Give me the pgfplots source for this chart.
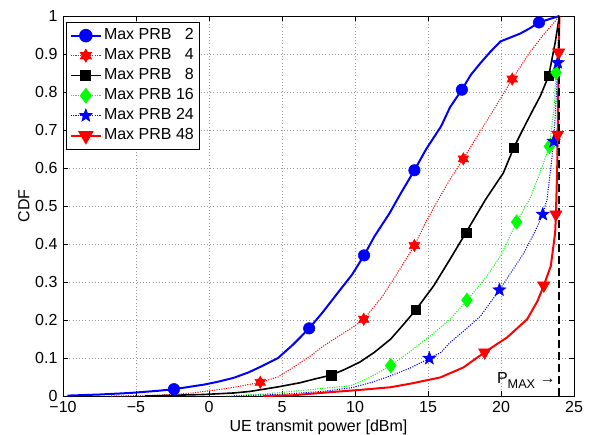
\documentclass[12pt,border=0pt]{standalone}
\usepackage{fontspec}
\setmainfont{Liberation Sans}
\usepackage{pgfplots}
\pgfplotsset{compat=1.18}

% MATLAB-like hexagram marker
\pgfdeclareplotmark{hexagram}{%
  \pgfpathmoveto{\pgfpointpolar{90}{\pgfplotmarksize}}%
  \pgfpathlineto{\pgfpointpolar{210}{\pgfplotmarksize}}%
  \pgfpathlineto{\pgfpointpolar{330}{\pgfplotmarksize}}%
  \pgfpathclose
  \pgfpathmoveto{\pgfpointpolar{270}{\pgfplotmarksize}}%
  \pgfpathlineto{\pgfpointpolar{30}{\pgfplotmarksize}}%
  \pgfpathlineto{\pgfpointpolar{150}{\pgfplotmarksize}}%
  \pgfpathclose
  \pgfusepathqfillstroke}
% MATLAB-like pentagram marker
\pgfdeclareplotmark{pentagram}{%
  \pgfpathmoveto{\pgfpointpolar{90}{\pgfplotmarksize}}%
  \pgfpathlineto{\pgfpointpolar{126}{0.42\pgfplotmarksize}}%
  \pgfpathlineto{\pgfpointpolar{162}{\pgfplotmarksize}}%
  \pgfpathlineto{\pgfpointpolar{198}{0.42\pgfplotmarksize}}%
  \pgfpathlineto{\pgfpointpolar{234}{\pgfplotmarksize}}%
  \pgfpathlineto{\pgfpointpolar{270}{0.42\pgfplotmarksize}}%
  \pgfpathlineto{\pgfpointpolar{306}{\pgfplotmarksize}}%
  \pgfpathlineto{\pgfpointpolar{342}{0.42\pgfplotmarksize}}%
  \pgfpathlineto{\pgfpointpolar{18}{\pgfplotmarksize}}%
  \pgfpathlineto{\pgfpointpolar{54}{0.42\pgfplotmarksize}}%
  \pgfpathclose
  \pgfusepathqfillstroke}

\pgfplotsset{
  prbA/.style={blue, line width=1.5pt},
  prbAm/.style={blue, mark=*, mark size=4.3pt, mark options={solid, fill=blue}},
  prbB/.style={red, line width=0.8pt, densely dotted},
  prbBm/.style={red, mark=hexagram, mark size=4.6pt, mark options={solid, fill=red}},
  prbC/.style={black, line width=1.2pt},
  prbCm/.style={black, mark=square*, mark size=3.6pt, mark options={solid, fill=black}},
  prbD/.style={green, line width=0.8pt, densely dotted},
  prbDm/.style={green, mark=diamond*, mark size=5.4pt, mark options={solid, fill=green}},
  prbE/.style={blue, line width=0.8pt, densely dotted},
  prbEm/.style={blue, mark=pentagram, mark size=5pt, mark options={solid, fill=blue, line width=0.5pt}},
  prbF/.style={red, line width=1.5pt},
  prbFm/.style={red, mark=triangle*, mark size=5.3pt, mark options={solid, fill=red, rotate=180}},
}

\begin{document}
\begin{tikzpicture}
\begin{axis}[
  name=ax,
  scale only axis,
  width=383.25pt, height=285pt,
  xmin=-10, xmax=25, ymin=0, ymax=1,
  xtick={-10,-5,0,5,10,15,20,25},
  xticklabels={−10,−5,0,5,10,15,20,25},
  ytick={0,0.1,0.2,0.3,0.4,0.5,0.6,0.7,0.8,0.9,1},
  /pgf/number format/assume math mode=true,
  tick align=inside,
  major tick length=3.75pt,
  every tick/.style={black, line width=0.5pt},
  axis line style={black, line width=0.5pt},
  grid=major,
  major grid style={gray!80, dotted, line width=0.5pt},
  xlabel={UE transmit power [dBm]},
  ylabel={CDF},
  xlabel style={yshift=3pt},
  ylabel style={yshift=-4pt},
  legend cell align=left,
  legend style={at={(0,1)}, anchor=north west, xshift=2.25pt, yshift=-4.5pt,
    draw=black, line width=0.5pt, fill=white, inner sep=2.5pt, row sep=0pt,
    nodes={inner sep=1.5pt, text height=9pt, text depth=3pt}},
  legend image code/.code={\draw[mark repeat=2,mark phase=2] plot coordinates {(0cm,0cm) (0.4cm,0cm) (0.8cm,0cm)};},
]
\addlegendimage{prbA, prbAm}
\addlegendentry{Max PRB \phantom{1}2}
\addlegendimage{prbB, prbBm}
\addlegendentry{Max PRB \phantom{1}4}
\addlegendimage{prbC, prbCm}
\addlegendentry{Max PRB \phantom{1}8}
\addlegendimage{prbD, prbDm}
\addlegendentry{Max PRB 16}
\addlegendimage{prbE, prbEm}
\addlegendentry{Max PRB 24}
\addlegendimage{prbF, prbFm}
\addlegendentry{Max PRB 48}

% Max PRB 2
\addplot[prbA, forget plot] coordinates {
(-9.7,0.001) (-7.45,0.004) (-5.4,0.008) (-3.4,0.014) (-2.4,0.018) (-1.36,0.024)
(-0.34,0.03) (0.67,0.038) (1.7,0.048) (2.7,0.062) (3.7,0.08) (4.73,0.1)
(5.75,0.135) (6.86,0.178) (7.78,0.22) (8.79,0.27) (9.81,0.32) (10.62,0.37)
(11.33,0.42) (12.35,0.48) (13.16,0.535) (14.07,0.594) (14.88,0.65) (15.9,0.71)
(16.51,0.76) (17.32,0.806) (17.93,0.845) (18.59,0.876) (19.25,0.905) (19.96,0.933)
(21.33,0.954) (21.99,0.968) (22.6,0.983) (23.41,0.993) (24,1)};
% Max PRB 4
\addplot[prbB, forget plot] coordinates {
(-6.7,0) (-3.4,0.002) (-1.36,0.007) (-0.34,0.012) (0.67,0.017) (1.7,0.023)
(2.7,0.03) (3.51,0.036) (4.73,0.05) (5.75,0.075) (6.97,0.106) (7.78,0.13)
(8.79,0.155) (9.81,0.18) (10.6,0.202) (11.84,0.26) (12.85,0.32) (14.07,0.396)
(14.88,0.46) (15.9,0.53) (16.51,0.57) (17.42,0.624) (18.44,0.688) (19.45,0.75)
(20.77,0.834) (21.99,0.905) (23,0.955) (23.4,0.972) (24,1)};
% Max PRB 8
\addplot[prbC, forget plot] coordinates {
(-4.4,0) (-2.4,0.002) (-0.34,0.004) (1.7,0.008) (2.8,0.012) (4.73,0.024)
(6.25,0.035) (7.27,0.045) (8.37,0.055) (9.3,0.07) (10.32,0.089) (11.33,0.115)
(12.45,0.15) (13.36,0.19) (14.17,0.227) (15.39,0.29) (16.51,0.36) (17.6,0.43)
(18.94,0.517) (20.16,0.587) (20.87,0.653) (21.48,0.7) (22.19,0.753) (22.7,0.79)
(23.27,0.843) (23.71,0.93) (24,1)};
% Max PRB 16
\addplot[prbD, forget plot] coordinates {
(1.2,0) (3.72,0.005) (6.25,0.014) (7.78,0.02) (9.71,0.027) (10.82,0.045)
(12.45,0.08) (13.87,0.12) (15.39,0.165) (16.51,0.202) (17.67,0.252) (18.94,0.31)
(19.96,0.368) (21.07,0.458) (21.99,0.52) (22.7,0.59) (23.31,0.657) (23.61,0.75)
(23.77,0.851) (24,1)};
% Max PRB 24
\addplot[prbE, forget plot] coordinates {
(1.7,0) (4.73,0.004) (7.78,0.012) (9.81,0.022) (11.33,0.038) (12.42,0.053)
(13.87,0.075) (15.09,0.099) (15.9,0.115) (16.51,0.141) (17.42,0.17) (18.59,0.21)
(19.89,0.279) (20.77,0.33) (21.58,0.377) (22.29,0.43) (22.86,0.478) (23.15,0.517)
(23.41,0.6) (23.61,0.67) (23.76,0.77) (23.89,0.877) (24,1)};
% Max PRB 48
\addplot[prbF, forget plot] coordinates {
(3.72,0) (5.75,0.002) (8.28,0.01) (10.32,0.016) (12.42,0.023) (13.87,0.033)
(15.85,0.049) (17.42,0.075) (18.88,0.115) (20.41,0.154) (21.79,0.202) (22.5,0.25)
(22.93,0.291) (23.41,0.342) (23.71,0.43) (23.76,0.478) (23.85,0.6) (23.88,0.688)
(23.92,0.8) (23.95,0.904) (24,1)};

% P_MAX
\addplot[black, line width=1.5pt, dash pattern=on 6pt off 3pt, forget plot] coordinates {(24,0) (24,1)};

% markers
\addplot[prbAm, only marks, forget plot] coordinates {
(-2.4,0.018) (6.86,0.178) (10.62,0.37) (14.07,0.594) (17.32,0.806) (22.6,0.983)};
\addplot[prbBm, only marks, forget plot] coordinates {
(3.51,0.036) (10.6,0.202) (14.07,0.396) (17.42,0.624) (20.77,0.834)};
\addplot[prbCm, only marks, forget plot] coordinates {
(8.37,0.055) (14.17,0.227) (17.6,0.43) (20.87,0.653) (23.27,0.843)};
\addplot[prbDm, only marks, forget plot] coordinates {
(12.45,0.08) (17.67,0.252) (21.07,0.458) (23.31,0.657) (23.77,0.851)};
\addplot[prbEm, only marks, forget plot] coordinates {
(15.09,0.099) (19.89,0.279) (22.86,0.478) (23.61,0.67) (23.89,0.877)};
\addplot[prbFm, only marks, forget plot] coordinates {
(18.88,0.115) (22.93,0.291) (23.76,0.478) (23.88,0.688) (23.95,0.904)};

\node[anchor=base east, inner sep=1pt] at (axis cs:23.85,0.032)
  {P\raisebox{-3.5pt}{\fontsize{9.5}{10}\selectfont MAX} →};
\end{axis}
\pgfresetboundingbox
\path ([shift={(-47.25pt,-28.5pt)}]ax.south west) rectangle ([shift={(19.5pt,12pt)}]ax.north east);
\end{tikzpicture}
\end{document}
